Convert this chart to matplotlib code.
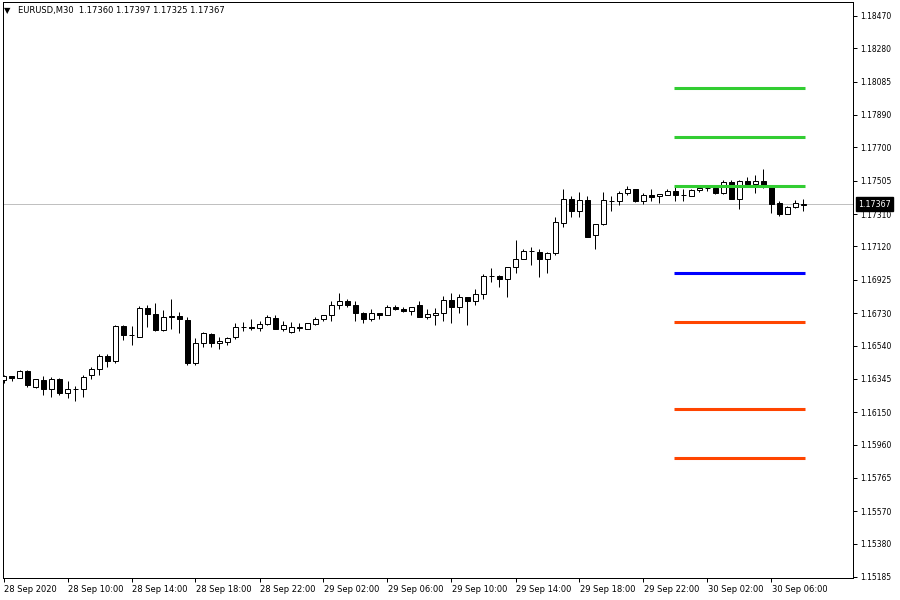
import matplotlib
matplotlib.use("Agg")
import matplotlib.pyplot as plt
import matplotlib.transforms as mtransforms
import numpy as np

# EURUSD M30 candles (bar 0 = 28 Sep 06:00)
opens = [1.16338, 1.16359, 1.16350, 1.16393, 1.16299, 1.16338, 1.16284, 1.16346, 1.16260, 1.16284,
         1.16284, 1.16366, 1.16401, 1.16479, 1.16451, 1.16654, 1.16600, 1.16592, 1.16760, 1.16725,
         1.16631, 1.16709, 1.16713, 1.16689, 1.16439, 1.16553, 1.16607, 1.16553, 1.16561, 1.16588,
         1.16647, 1.16647, 1.16643, 1.16666, 1.16701, 1.16635, 1.16619, 1.16644, 1.16638, 1.16666,
         1.16697, 1.16717, 1.16775, 1.16799, 1.16775, 1.16729, 1.16694, 1.16729, 1.16717, 1.16764,
         1.16752, 1.16740, 1.16775, 1.16709, 1.16717, 1.16729, 1.16807, 1.16764, 1.16822, 1.16799,
         1.16842, 1.16947, 1.16947, 1.16928, 1.16998, 1.17048, 1.17092, 1.17088, 1.17045, 1.17080,
         1.17256, 1.17396, 1.17326, 1.17392, 1.17185, 1.17251, 1.17388, 1.17388, 1.17431, 1.17458,
         1.17384, 1.17423, 1.17415, 1.17423, 1.17443, 1.17424, 1.17415, 1.17451, 1.17462, 1.17462,
         1.17431, 1.17497, 1.17400, 1.17502, 1.17486, 1.17502, 1.17466, 1.17376, 1.17310, 1.17349,
         1.17360]

highs = [1.16366, 1.16362, 1.16397, 1.16397, 1.16344, 1.16362, 1.16358, 1.16350, 1.16334, 1.16303,
         1.16370, 1.16413, 1.16490, 1.16490, 1.16658, 1.16662, 1.16654, 1.16771, 1.16779, 1.16787,
         1.16748, 1.16811, 1.16736, 1.16705, 1.16584, 1.16619, 1.16615, 1.16588, 1.16592, 1.16674,
         1.16678, 1.16694, 1.16682, 1.16721, 1.16721, 1.16682, 1.16678, 1.16674, 1.16674, 1.16705,
         1.16719, 1.16799, 1.16846, 1.16811, 1.16799, 1.16736, 1.16756, 1.16730, 1.16775, 1.16775,
         1.16767, 1.16768, 1.16799, 1.16752, 1.16760, 1.16830, 1.16846, 1.16842, 1.16824, 1.16873,
         1.16959, 1.16994, 1.16955, 1.17000, 1.17158, 1.17103, 1.17115, 1.17103, 1.17088, 1.17294,
         1.17458, 1.17415, 1.17439, 1.17415, 1.17254, 1.17439, 1.17415, 1.17446, 1.17474, 1.17459,
         1.17431, 1.17458, 1.17428, 1.17458, 1.17470, 1.17455, 1.17458, 1.17463, 1.17474, 1.17474,
         1.17509, 1.17509, 1.17509, 1.17525, 1.17540, 1.17572, 1.17468, 1.17384, 1.17354, 1.17392,
         1.17397]

lows = [1.16323, 1.16334, 1.16347, 1.16300, 1.16291, 1.16248, 1.16240, 1.16248, 1.16233, 1.16214,
        1.16240, 1.16346, 1.16366, 1.16416, 1.16436, 1.16572, 1.16541, 1.16590, 1.16647, 1.16627,
        1.16623, 1.16638, 1.16611, 1.16428, 1.16428, 1.16529, 1.16529, 1.16521, 1.16541, 1.16580,
        1.16623, 1.16631, 1.16627, 1.16662, 1.16634, 1.16627, 1.16615, 1.16627, 1.16635, 1.16658,
        1.16682, 1.16682, 1.16756, 1.16767, 1.16685, 1.16674, 1.16682, 1.16697, 1.16716, 1.16748,
        1.16739, 1.16721, 1.16705, 1.16697, 1.16658, 1.16685, 1.16674, 1.16732, 1.16662, 1.16775,
        1.16811, 1.16912, 1.16881, 1.16826, 1.16966, 1.17047, 1.17013, 1.16943, 1.16963, 1.17068,
        1.17232, 1.17291, 1.17291, 1.17174, 1.17107, 1.17244, 1.17326, 1.17361, 1.17423, 1.17383,
        1.17369, 1.17388, 1.17376, 1.17421, 1.17388, 1.17384, 1.17414, 1.17439, 1.17446, 1.17430,
        1.17430, 1.17395, 1.17341, 1.17485, 1.17431, 1.17465, 1.17314, 1.17298, 1.17309, 1.17348,
        1.17325]

closes = [1.16362, 1.16350, 1.16393, 1.16307, 1.16342, 1.16284, 1.16346, 1.16260, 1.16284, 1.16286,
          1.16358, 1.16401, 1.16479, 1.16451, 1.16654, 1.16600, 1.16599, 1.16760, 1.16725, 1.16631,
          1.16709, 1.16710, 1.16694, 1.16439, 1.16553, 1.16612, 1.16553, 1.16568, 1.16584, 1.16647,
          1.16648, 1.16645, 1.16666, 1.16705, 1.16635, 1.16662, 1.16647, 1.16647, 1.16670, 1.16697,
          1.16717, 1.16775, 1.16799, 1.16775, 1.16729, 1.16694, 1.16729, 1.16717, 1.16764, 1.16752,
          1.16740, 1.16767, 1.16709, 1.16725, 1.16729, 1.16807, 1.16764, 1.16822, 1.16799, 1.16842,
          1.16947, 1.16949, 1.16928, 1.16998, 1.17048, 1.17092, 1.17093, 1.17045, 1.17080, 1.17263,
          1.17396, 1.17326, 1.17392, 1.17177, 1.17251, 1.17392, 1.17389, 1.17431, 1.17455, 1.17384,
          1.17420, 1.17411, 1.17427, 1.17443, 1.17420, 1.17422, 1.17451, 1.17462, 1.17461, 1.17431,
          1.17497, 1.17396, 1.17502, 1.17486, 1.17502, 1.17466, 1.17369, 1.17310, 1.17353, 1.17373,
          1.17367]

# horizontal levels drawn over the last bars
green_levels = [1.18048, 1.17761, 1.17474]
blue_levels = [1.16965]
red_levels = [1.16678, 1.16169, 1.15882]
level_first_bar = 84
level_last_bar = 100

y_ticks = [1.18470, 1.18280, 1.18085, 1.17890, 1.17700, 1.17505, 1.17310, 1.17120, 1.16925,
           1.16730, 1.16540, 1.16345, 1.16150, 1.15960, 1.15765, 1.15570, 1.15380, 1.15185]

x_tick_labels = ["28 Sep 2020", "28 Sep 10:00", "28 Sep 14:00", "28 Sep 18:00", "28 Sep 22:00",
                 "29 Sep 02:00", "29 Sep 06:00", "29 Sep 10:00", "29 Sep 14:00", "29 Sep 18:00",
                 "29 Sep 22:00", "30 Sep 02:00", "30 Sep 06:00"]
BARS_PER_LABEL = 8

title = "EURUSD,M30  1.17360 1.17397 1.17325 1.17367"

PX = 0.72  # one pixel in points at dpi 100

fig = plt.figure(figsize=(9, 6), dpi=100)
ax = fig.add_axes([3 / 900, 22 / 600, 850 / 900, 576 / 600])

o = np.array(opens)
h = np.array(highs)
l = np.array(lows)
c = np.array(closes)
x = np.arange(len(o))

# wicks
ax.vlines(x, l, h, color="black", linewidth=PX, zorder=2)

# bodies
up = c >= o
body_lo = np.minimum(o, c)
body_h = np.abs(c - o)
ax.bar(x[up], body_h[up], bottom=body_lo[up], width=0.55, color="white",
       edgecolor="black", linewidth=PX, zorder=3)
ax.bar(x[~up], body_h[~up], bottom=body_lo[~up], width=0.55, color="black",
       edgecolor="black", linewidth=PX, zorder=3)

# current price line
ax.axhline(closes[-1], color="#C0C0C0", linewidth=PX, zorder=1)

# levels
for levels, col in [(green_levels, "#32CD32"), (blue_levels, "#0000FF"), (red_levels, "#FF4500")]:
    ax.hlines(levels, level_first_bar - 0.15, level_last_bar + 0.15, color=col,
              linewidth=2.2, zorder=4, capstyle="butt")

ax.set_xlim(-0.0625, -0.0625 + 850 / 8)
ax.set_ylim(1.151788, 1.185513)

# axes styling
for s in ax.spines.values():
    s.set_linewidth(PX)
    s.set_color("black")

ax.yaxis.tick_right()
ax.set_yticks(y_ticks)
ax.set_yticklabels(["%.5f" % v for v in y_ticks])
ax.tick_params(axis="y", direction="out", length=3, width=PX, pad=2,
               labelsize=5.5, colors="black")

ax.set_xticks(np.arange(len(x_tick_labels)) * BARS_PER_LABEL)
ax.set_xticklabels(x_tick_labels, ha="left")
ax.tick_params(axis="x", direction="out", length=3, width=PX, pad=2,
               labelsize=6, colors="black")
for lab in ax.get_xticklabels():
    lab.set_transform(lab.get_transform() + mtransforms.ScaledTranslation(1 / 100, 0, fig.dpi_scale_trans))

# current price box on the right scale
trans = mtransforms.blended_transform_factory(ax.transAxes, ax.transData)
ax.text(1 + 5 / 850, closes[-1], "%.5f" % closes[-1], transform=trans, ha="left", va="center",
        fontsize=5.8, color="white", zorder=10, clip_on=False,
        bbox=dict(boxstyle="square,pad=0.3", fc="black", ec="black"))

# title line
fig.text(4 / 900, 1 - 11 / 600, "\u25bc", fontsize=6, va="center", ha="left")
fig.text(18 / 900, 1 - 11 / 600, title, fontsize=6, va="center", ha="left")

fig.savefig("out.png", dpi=100, facecolor="white")
